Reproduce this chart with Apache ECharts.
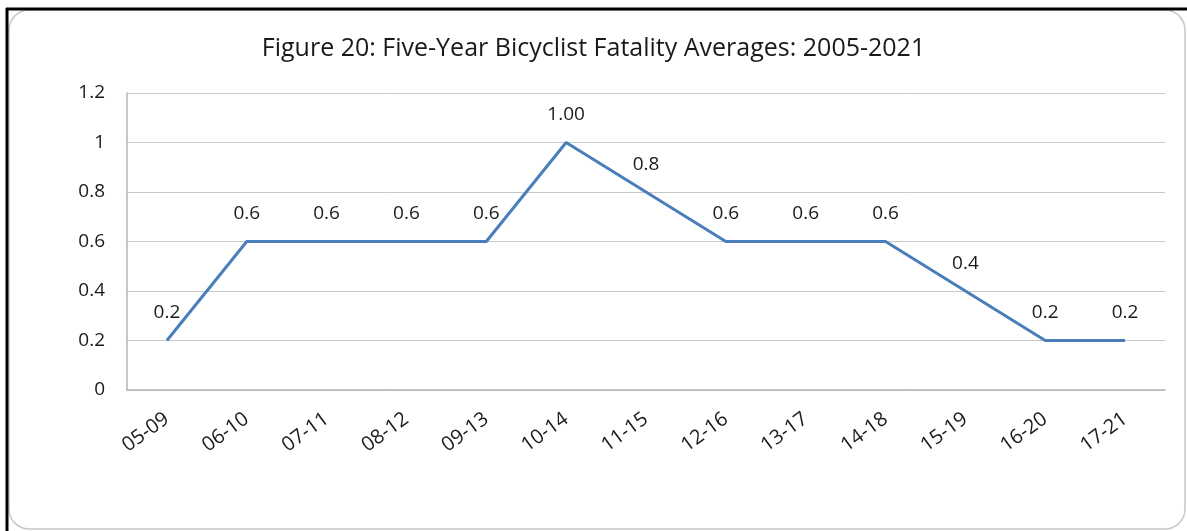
<!DOCTYPE html>
<html>
<head>
<meta charset="utf-8">
<script src="https://cdn.jsdelivr.net/npm/echarts@6/dist/echarts.min.js"></script>
<style>
  html, body { margin: 0; padding: 0; background: #fff; }
  #chart { width: 1187px; height: 531px; }
</style>
</head>
<body>
<div id="chart"></div>
<script>
// five-year windows
const periods = ['05-09', '06-10', '07-11', '08-12', '09-13', '10-14', '11-15',
    '12-16', '13-17', '14-18', '15-19', '16-20', '17-21'];
// averages
const averages = [0.2, 0.6, 0.6, 0.6, 0.6, 1.0, 0.8, 0.6, 0.6, 0.6, 0.4, 0.2, 0.2];
// labels as printed on the chart
const pointLabels = ['0.2', '0.6', '0.6', '0.6', '0.6', '1.00', '0.8', '0.6', '0.6', '0.6', '0.4', '0.2', '0.2'];

const font = '"Open Sans", Lato, sans-serif';
const chart = echarts.init(document.getElementById('chart'), null, { renderer: 'canvas' });

const option = {
    animation: false,
    backgroundColor: '#fff',
    title: {
        text: 'Figure 20: Five-Year Bicyclist Fatality Averages: 2005-2021',
        left: 'center',
        top: 31,
        textStyle: { fontFamily: font, fontSize: 25, fontWeight: 'normal', color: '#1a1a1a' }
    },
    graphic: [
        // outer frame (black edges top/left) and rounded chart border
        { type: 'rect', shape: { x: 9, y: 10, width: 1176, height: 519, r: 20 },
          style: { fill: 'none', stroke: '#c8c8c8', lineWidth: 1.5 }, silent: true },
        { type: 'line', shape: { x1: 6, y1: 9, x2: 1187, y2: 9 },
          style: { stroke: '#000', lineWidth: 3 }, silent: true },
        { type: 'line', shape: { x1: 7, y1: 8, x2: 7, y2: 531 },
          style: { stroke: '#000', lineWidth: 3 }, silent: true }
    ],
    grid: { left: 127, right: 22, top: 93, bottom: 141 },
    xAxis: {
        type: 'category',
        data: periods,
        boundaryGap: true,
        axisLine: { lineStyle: { color: '#b4b4b4', width: 1.5 } },
        axisTick: { show: false },
        axisLabel: { rotate: 36, fontFamily: font, fontSize: 20, color: '#1a1a1a', margin: 27, interval: 0 }
    },
    yAxis: {
        type: 'value',
        min: 0,
        max: 1.2,
        interval: 0.2,
        axisLine: { show: true, lineStyle: { color: '#b4b4b4', width: 1.5 } },
        axisTick: { show: false },
        splitLine: { lineStyle: { color: '#c8c8c8', width: 1 } },
        axisLabel: {
            fontFamily: font, fontSize: 19, color: '#1a1a1a', margin: 22,
            formatter: v => String(Math.round(v * 10) / 10)
        }
    },
    series: [{
        type: 'line',
        data: averages,
        symbol: 'circle',
        symbolSize: 2,
        showSymbol: true,
        itemStyle: { color: 'rgba(0,0,0,0)' },
        lineStyle: { color: '#4a7ebb', width: 3 },
        label: {
            show: true,
            position: 'top',
            distance: 17,
            fontFamily: font,
            fontSize: 19,
            color: '#1a1a1a',
            formatter: p => pointLabels[p.dataIndex]
        },
        labelLayout: { hideOverlap: false }
    }]
};

chart.setOption(option);
</script>
</body>
</html>
